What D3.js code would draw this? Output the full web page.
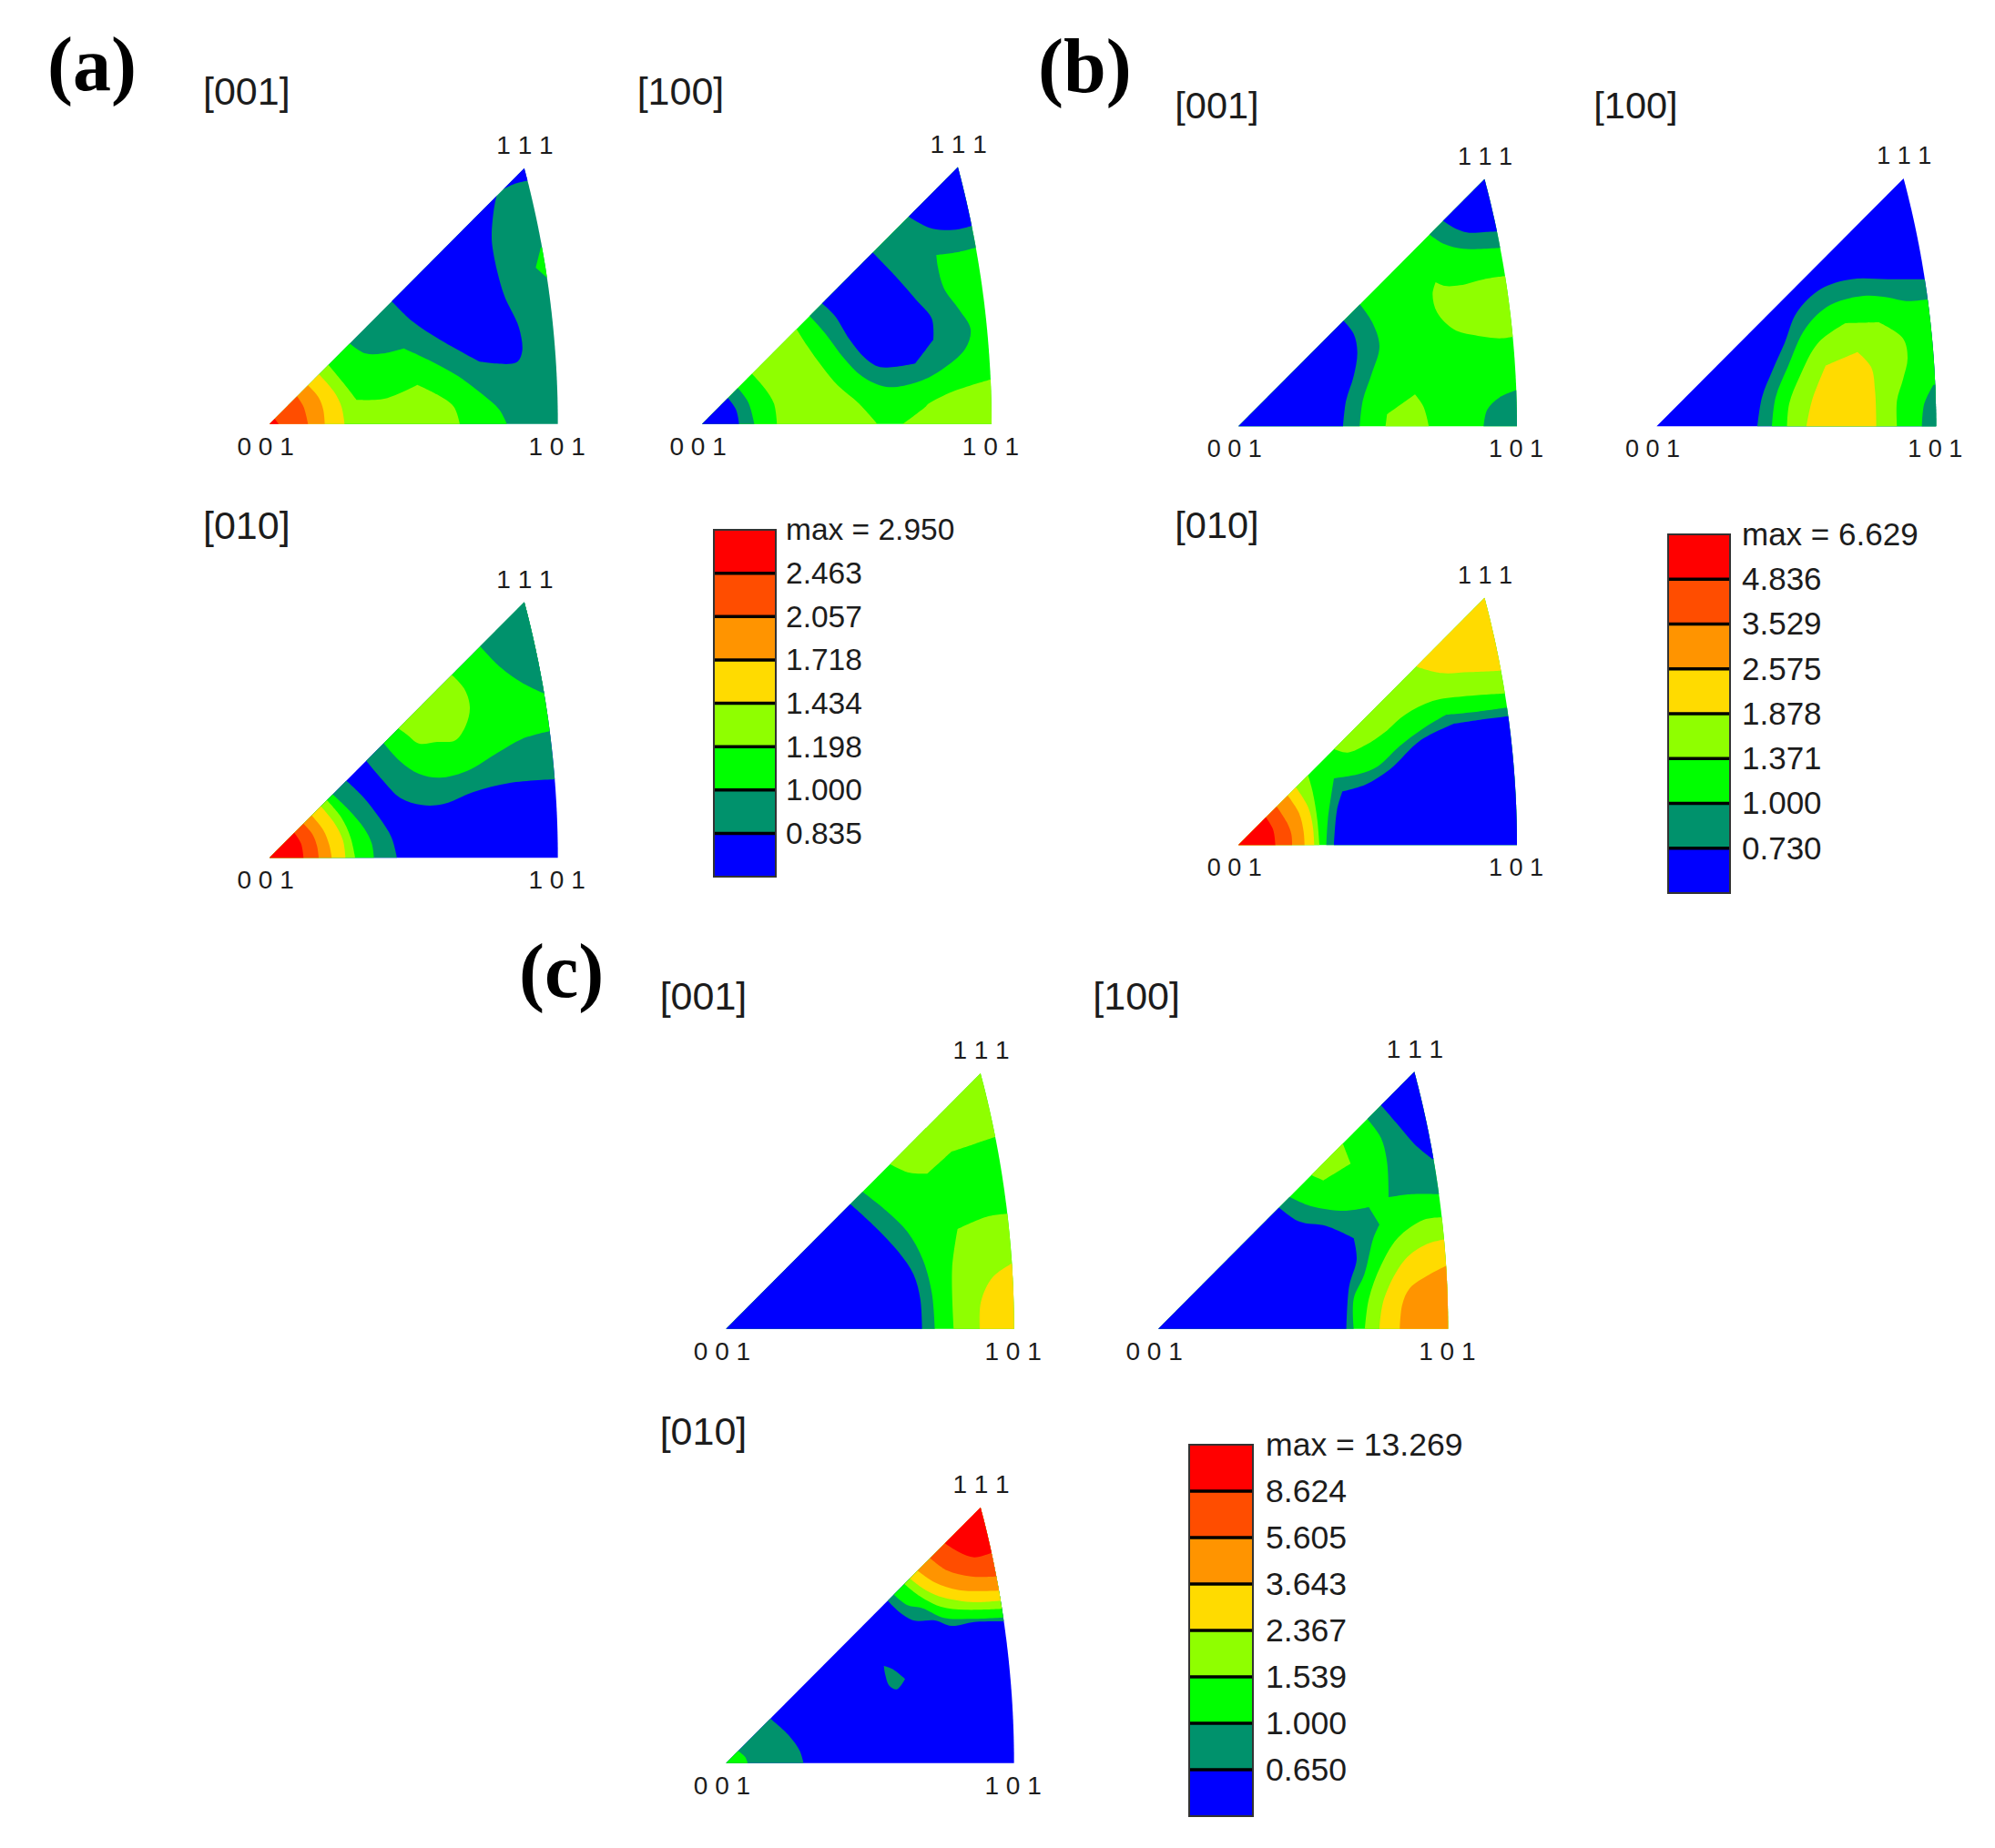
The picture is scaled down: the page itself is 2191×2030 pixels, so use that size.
<!DOCTYPE html>
<html><head><meta charset="utf-8">
<script src="https://cdn.jsdelivr.net/npm/d3@7"></script>
<style>html,body{margin:0;background:#fff}svg{display:block}</style></head>
<body><div id="chart"></div>
<script>
// Level colours, lowest to highest band
const levelColors = ["#0000ff","#00926c","#00ff00","#8fff00","#ffdb00","#ff9400","#ff4d00","#ff0000"];
const BLUE=0,TEAL=1,GREEN=2,LIME=3,YELLOW=4,ORANGE=5,REDOR=6,RED=7;

// Legend values
const legendA = ["max = 2.950","2.463","2.057","1.718","1.434","1.198","1.000","0.835"];
const legendB = ["max = 6.629","4.836","3.529","2.575","1.878","1.371","1.000","0.730"];
const legendC = ["max = 13.269","8.624","5.605","3.643","2.367","1.539","1.000","0.650"];

// Contours: [level, closure kind]; a repeated point is a sharp corner
const a001 = [
 [BLUE,"u",[[630,812],[700,880],[790,940],[920,1012],[920,1012],[1040,1015],[1060,980],[1050,900],[1000,790],[965,650],[960,590],[975,470],[985,450],[985,450],[1030,428],[1080,415]]],
 [GREEN,"o",[[490,950],[545,985],[600,985],[670,968],[670,968],[750,1005],[850,1060],[930,1120],[985,1170],[1010,1217]]],
 [LIME,"o",[[420,1020],[470,1080],[515,1138],[515,1138],[610,1133],[715,1088],[715,1088],[780,1120],[835,1160],[855,1217]]],
 [YELLOW,"o",[[390,1052],[440,1110],[465,1160],[475,1217]]],
 [ORANGE,"o",[[355,1090],[390,1130],[405,1170],[410,1217]]],
 [REDOR,"o",[[318,1125],[340,1160],[355,1217]]],
 [RED,"o",[[245,1200],[258,1217]]],
 [GREEN,"a",[[1122,635],[1105,702],[1105,702],[1142,735]]]
];
const a100 = [
 [TEAL,"u",[[568,862],[620,920],[680,1000],[740,1060],[820,1095],[920,1080],[1000,1040],[1080,970],[1098,905],[1060,840],[1010,770],[990,700],[985,660],[985,660],[1060,650],[1112,637]]],
 [BLUE,"u",[[895,535],[960,570],[1010,578],[1060,575],[1100,565]]],
 [BLUE,"h",[[775,652],[850,730],[920,810],[970,870],[975,940],[975,940],[915,1018],[915,1018],[800,1030],[750,1000],[700,940],[650,860],[608,820]]],
 [LIME,"o",[[525,905],[560,960],[610,1030],[660,1090],[730,1150],[790,1217]]],
 [GREEN,"o",[[378,1052],[420,1100],[450,1150],[460,1217]]],
 [TEAL,"o",[[330,1098],[365,1145],[385,1217]]],
 [BLUE,"o",[[298,1132],[325,1170],[335,1217]]],
 [LIME,"r",[[875,1217],[950,1160],[960,1150],[1040,1110],[1165,1070]]]
];
const a010 = [
 [TEAL,"u",[[545,885],[600,950],[660,1010],[730,1033],[800,1030],[900,990],[1020,960],[1170,948]]],
 [GREEN,"u",[[605,830],[660,890],[720,930],[790,943],[880,920],[980,860],[1060,815],[1150,790]]],
 [TEAL,"u",[[922,510],[990,580],[1060,630],[1132,665]]],
 [LIME,"h",[[830,605],[870,650],[888,710],[875,770],[840,820],[780,825],[720,830],[680,800],[652,780]]],
 [TEAL,"o",[[480,952],[540,1010],[590,1075],[630,1140],[648,1207]]],
 [GREEN,"o",[[435,997],[490,1050],[540,1110],[565,1160],[572,1207]]],
 [LIME,"o",[[415,1015],[465,1075],[495,1140],[510,1207]]],
 [YELLOW,"o",[[395,1035],[440,1090],[470,1150],[478,1207]]],
 [ORANGE,"o",[[365,1065],[405,1115],[425,1165],[433,1207]]],
 [REDOR,"o",[[338,1093],[370,1130],[385,1170],[390,1207]]],
 [RED,"o",[[310,1125],[332,1160],[340,1207]]]
];
const b001 = [
 [TEAL,"u",[[870,533],[920,565],[980,580],[1050,580],[1102,577]]],
 [BLUE,"u",[[915,488],[960,515],[1000,527],[1050,525],[1090,523]]],
 [LIME,"a",[[1118,670],[1050,680],[970,700],[920,702],[890,690],[890,690],[880,730],[895,790],[950,845],[1020,865],[1100,875],[1145,870]]],
 [LIME,"b",[[725,1165],[730,1125],[730,1125],[780,1090],[822,1060],[822,1060],[850,1100],[868,1165]]],
 [TEAL,"r",[[1048,1165],[1060,1110],[1100,1070],[1158,1045]]],
 [TEAL,"o",[[640,762],[680,820],[705,900],[680,990],[650,1080],[640,1165]]],
 [BLUE,"o",[[585,815],[620,860],[632,920],[620,1000],[595,1080],[585,1165]]]
];
const b100 = [
 [TEAL,"r",[[570,1165],[585,1070],[620,980],[660,890],[700,790],[780,712],[880,680],[1000,680],[1121,680]]],
 [GREEN,"r",[[618,1165],[630,1070],[670,970],[730,840],[810,765],[920,735],[1000,740],[1060,752],[1130,747]]],
 [TEAL,"r",[[1112,1165],[1120,1090],[1150,1028]]],
 [LIME,"b",[[668,1165],[675,1090],[710,1000],[770,890],[860,825],[860,825],[970,822],[970,822],[1050,875],[1065,940],[1050,1010],[1030,1080],[1030,1165]]],
 [YELLOW,"b",[[732,1165],[750,1080],[795,965],[795,965],[900,920],[900,920],[945,970],[958,1050],[962,1165]]]
];
const b010 = [
 [LIME,"u",[[555,848],[600,860],[660,835],[720,795],[790,735],[880,690],[980,675],[1118,665]]],
 [YELLOW,"u",[[830,578],[910,598],[1000,595],[1105,590]]],
 [TEAL,"r",[[530,1165],[535,1080],[555,945],[555,945],[640,930],[700,905],[770,840],[850,780],[925,735],[925,735],[1030,725],[1125,712]]],
 [BLUE,"r",[[555,1165],[565,1050],[583,988],[583,988],[660,965],[740,915],[840,820],[950,765],[950,765],[1050,750],[1130,740]]],
 [LIME,"o",[[470,935],[485,990],[500,1080],[507,1165]]],
 [YELLOW,"o",[[430,975],[470,1040],[485,1100],[490,1165]]],
 [ORANGE,"o",[[403,1002],[440,1060],[455,1120],[458,1165]]],
 [REDOR,"o",[[368,1040],[400,1090],[415,1130],[417,1165]]],
 [RED,"o",[[332,1075],[355,1115],[362,1165]]]
];
const c001 = [
 [LIME,"u",[[770,655],[830,683],[895,688],[895,688],[975,615],[975,615],[1050,590],[1118,567]]],
 [TEAL,"o",[[678,745],[760,810],[830,880],[880,970],[910,1080],[920,1198]]],
 [BLUE,"o",[[640,787],[720,860],[800,945],[850,1020],[872,1100],[878,1198]]],
 [LIME,"r",[[982,1198],[977,1000],[995,870],[995,870],[1090,830],[1160,820]]],
 [YELLOW,"r",[[1068,1198],[1072,1110],[1110,1030],[1172,985]]]
];
const c100 = [
 [TEAL,"u",[[905,508],[950,570],[970,650],[975,765],[975,765],[1050,755],[1140,755]]],
 [BLUE,"u",[[950,462],[1000,520],[1060,590],[1120,640]]],
 [LIME,"h",[[825,590],[825,590],[850,655],[850,655],[760,710],[760,710],[720,692]]],
 [TEAL,"o",[[650,765],[720,795],[830,810],[910,798],[910,798],[945,855],[945,855],[925,900],[895,1020],[860,1100],[860,1198]]],
 [BLUE,"o",[[615,800],[680,845],[770,860],[860,900],[860,900],[870,970],[845,1060],[836,1198]]],
 [LIME,"r",[[897,1198],[910,1100],[950,990],[1005,900],[1090,840],[1148,832]]],
 [YELLOW,"r",[[945,1198],[960,1100],[1030,970],[1100,920],[1155,905]]],
 [ORANGE,"r",[[1012,1198],[1020,1120],[1045,1065],[1110,1020],[1163,992]]]
];
const c010 = [
 [TEAL,"o",[[376,1012],[440,1070],[475,1120],[487,1159]]],
 [GREEN,"o",[[270,1118],[295,1140],[303,1159]]],
 [TEAL,"c",[[752,840],[780,850],[822,883],[822,883],[795,917],[770,905],[757,870],[752,840]]],
 [TEAL,"u",[[762,622],[800,660],[850,690],[920,690],[975,708],[1050,695],[1148,693]]],
 [GREEN,"u",[[783,603],[830,640],[880,650],[950,682],[1030,685],[1147,680]]],
 [LIME,"u",[[820,570],[870,610],[940,645],[1020,655],[1142,652]]],
 [YELLOW,"u",[[835,550],[890,590],[950,615],[1050,630],[1137,625]]],
 [ORANGE,"u",[[862,525],[920,565],[1000,590],[1132,592]]],
 [REDOR,"u",[[905,485],[960,525],[1040,545],[1120,545]]],
 [RED,"u",[[952,435],[1000,465],[1050,482],[1105,468]]]
];

// name, contours, base level, crop origin, 001 corner, 101 x, title anchor, font sizes
const panels = [
 {t:"[001]",d:a001,base:TEAL, cx:220, cy:60,  ox:228,oy:1217,rx:1178,tx:15,ty:165,f:43,l:28},
 {t:"[100]",d:a100,base:GREEN,cx:700, cy:60,  ox:213,oy:1217,rx:1167,tx:5, ty:165,f:43,l:28},
 {t:"[010]",d:a010,base:BLUE, cx:220, cy:540, ox:228,oy:1207,rx:1178,tx:15,ty:155,f:43,l:28},
 {t:"[001]",d:b001,base:GREEN,cx:1280,cy:80,  ox:240,oy:1165,rx:1158,tx:37,ty:150,f:41.5,l:27},
 {t:"[100]",d:b100,base:BLUE, cx:1740,cy:80,  ox:238,oy:1165,rx:1159,tx:37,ty:150,f:41.5,l:27},
 {t:"[010]",d:b010,base:GREEN,cx:1280,cy:540, ox:240,oy:1165,rx:1158,tx:37,ty:152,f:41.5,l:27},
 {t:"[001]",d:c001,base:GREEN,cx:720, cy:1060,ox:232,oy:1199,rx:1181,tx:20,ty:148,f:43,l:28},
 {t:"[100]",d:c100,base:GREEN,cx:1200,cy:1060,ox:216,oy:1199,rx:1171,tx:7, ty:148,f:43,l:28},
 {t:"[010]",d:c010,base:BLUE, cx:720, cy:1550,ox:232,oy:1160,rx:1181,tx:20,ty:110,f:43,l:28}
];
const legends = [
 {v:legendA,x:784, w:68,top:582, bottom:963, lx:863, f:33.5},
 {v:legendB,x:1832,w:68,top:587, bottom:981, lx:1913,f:35},
 {v:legendC,x:1306,w:70,top:1587,bottom:1995,lx:1390,f:35.6}
];
const letters = [
 {s:"(a)",x:52,  y:99},
 {s:"(b)",x:1140,y:101},
 {s:"(c)",x:570, y:1095}
];

const W=2191,H=2030;
const svg=d3.select("#chart").append("svg").attr("width",W).attr("height",H).attr("viewBox",[0,0,W,H]);
const sans="'Liberation Sans',Arial,sans-serif";
const ink="#1c1c1c";
const defs=svg.append("defs");

panels.forEach((p,i)=>{
  const sx=d3.scaleLinear([0,1380],[p.cx,p.cx+460]);
  const sy=d3.scaleLinear([0,1380],[p.cy,p.cy+460]);
  const span=p.rx-p.ox;
  // Stereographic boundary 001-101-111: circle centred at -(1+sqrt2), radius (2+sqrt2)
  const c=1+Math.SQRT2, r=2+Math.SQRT2;
  const arc=d3.range(0,15.01,0.5).map(a=>{const t=a*Math.PI/180;
    return [p.ox+span*(r*Math.cos(t)-c), p.oy-span*1.004*r*Math.sin(t)];});
  const sector=[[p.ox,p.oy],...arc];
  const apex=arc[arc.length-1];
  const lin=d3.line().x(d=>sx(d[0])).y(d=>sy(d[1]));
  const cur=d3.line().x(d=>sx(d[0])).y(d=>sy(d[1])).curve(d3.curveCatmullRom.alpha(0.5));

  defs.append("clipPath").attr("id","clip"+i).append("path").attr("d",lin(sector)+"Z");
  const g=svg.append("g");
  g.append("path").attr("d",lin(sector)+"Z").attr("fill",levelColors[p.base]);
  const L=g.append("g").attr("clip-path",`url(#clip${i})`);

  const closure=(kind,pts)=>{
    const a=pts[0],b=pts[pts.length-1],out=80,low=p.oy+40,top=p.oy-1100;
    switch(kind){
      case "o":return [[b[0],low],[p.ox-120,low],[a[0]-30,a[1]-30]];
      case "u":return [[p.rx+out,b[1]],[p.rx+out,top],[a[0]-30,a[1]-30]];
      case "r":return [[p.rx+out,b[1]],[p.rx+out,low],[a[0],low]];
      case "b":return [[b[0],low],[a[0],low]];
      case "a":return [[p.rx+out,b[1]],[p.rx+out,a[1]]];
      case "h":return [[b[0]-30,b[1]-30],[a[0]-30,a[1]-30]];
      default:return [];
    }
  };
  L.selectAll("path").data(p.d).join("path")
    .attr("d",([,k,pts])=>{
      const cl=closure(k,pts);
      return cur(pts)+(cl.length?"L"+cl.map(q=>sx(q[0])+","+sy(q[1])).join("L"):"")+"Z";
    })
    .attr("fill",d=>levelColors[d[0]]);

  const tx=(s,x,y,f,anchor)=>svg.append("text").text(s)
    .attr("x",sx(x)).attr("y",sy(y)).attr("font-family",sans).attr("font-size",f)
    .attr("fill",ink).attr("text-anchor",anchor);
  tx(p.t,p.tx-6,p.ty,p.f,"start");
  tx("1 1 1",apex[0]+2,apex[1]-47,p.l,"middle");
  tx("0 0 1",p.ox-13,p.oy+102,p.l,"middle");
  tx("1 0 1",p.rx-3,p.oy+102,p.l,"middle");
});

legends.forEach(l=>{
  const y=d3.scaleBand().domain(l.v).range([l.top,l.bottom]);
  const g=svg.append("g");
  g.selectAll("rect.c").data(l.v).join("rect").attr("class","c")
    .attr("x",l.x).attr("y",d=>y(d)).attr("width",l.w).attr("height",y.bandwidth())
    .attr("fill",(d,i)=>levelColors[levelColors.length-1-i]);
  g.selectAll("line").data(l.v.slice(1)).join("line")
    .attr("x1",l.x).attr("x2",l.x+l.w).attr("y1",d=>y(d)).attr("y2",d=>y(d))
    .attr("stroke","#000").attr("stroke-width",3.5);
  g.append("rect").attr("x",l.x).attr("y",l.top).attr("width",l.w).attr("height",l.bottom-l.top)
    .attr("fill","none").attr("stroke","#333").attr("stroke-width",2);
  g.selectAll("text").data(l.v).join("text").text(d=>d)
    .attr("x",l.lx).attr("y",d=>y(d)+l.f*0.34)
    .attr("font-family",sans).attr("font-size",l.f).attr("fill",ink);
});

svg.selectAll("text.letter").data(letters).join("text").attr("class","letter")
  .text(d=>d.s).attr("x",d=>d.x).attr("y",d=>d.y)
  .attr("font-family","'Liberation Serif','Times New Roman',serif")
  .attr("font-weight","bold").attr("font-size",84).attr("fill","#000");
</script></body></html>
